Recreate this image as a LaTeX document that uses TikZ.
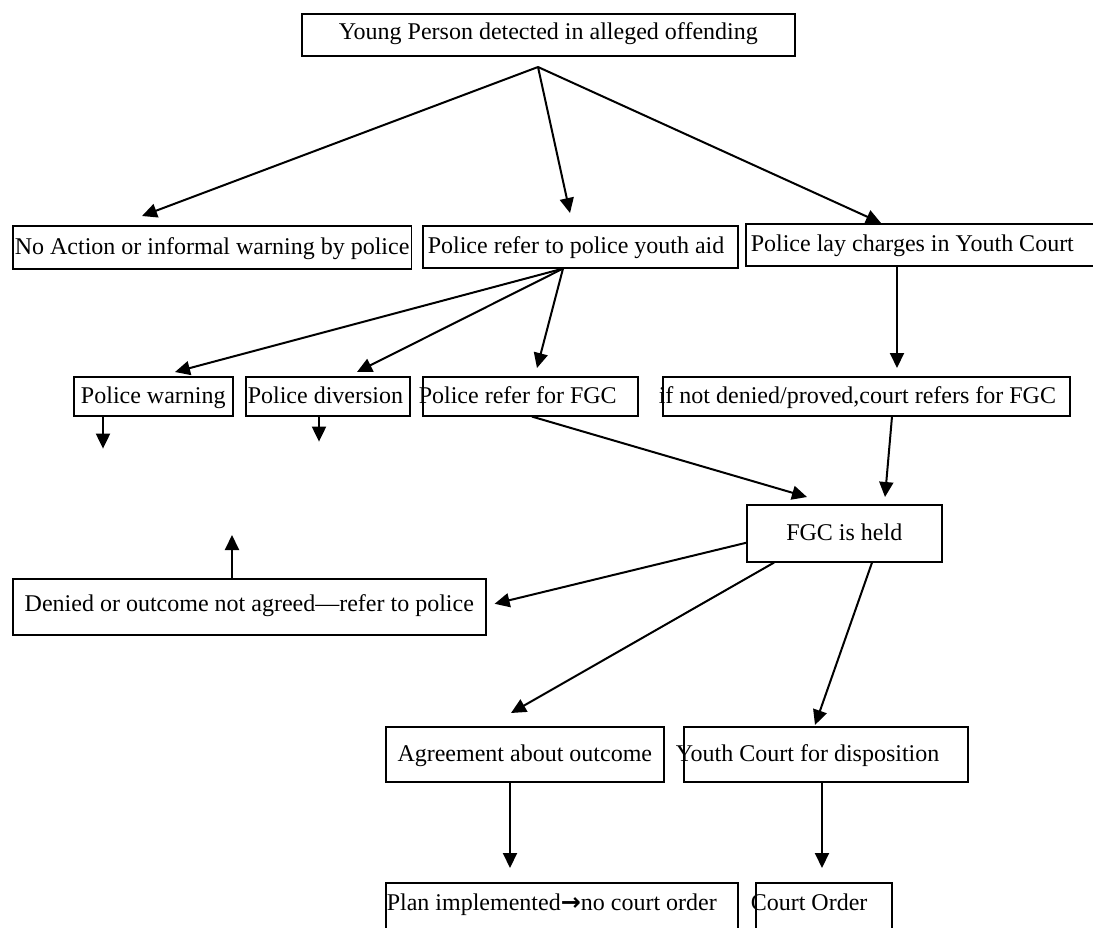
\documentclass[tikz,border=0pt]{standalone}
\usepackage{fontspec}
\setmainfont{Liberation Serif}
\newfontfamily\arrowfont{DejaVu Sans}
\usetikzlibrary{arrows.meta}

\tikzset{
  stage/.style={draw, line width=1.6pt, anchor=north west, inner xsep=2pt, inner ysep=0pt,
    text height=18pt, text depth=4pt,
    font=\fontsize{24pt}{28pt}\selectfont},
  leftstage/.style={stage, align=flush left},
  flow/.style={line width=2pt, -{Triangle[length=15pt,width=14pt]}}
}

\begin{document}
\begin{tikzpicture}[x=1pt, y=-1pt]
  \useasboundingbox (0,0) rectangle (1093,927);
  \clip (0,0) rectangle (1093,927);
%блоки
  \node[stage, minimum width=493pt, minimum height=42pt, text height=16pt, text depth=6pt] (young) at (301,13) {Young Person detected in alleged offending};
  \node[stage, minimum width=397pt, minimum height=43pt] (noaction) at (12,225) {No Action or informal warning by police};
  \node[leftstage, text width=305pt, inner xsep=5pt, minimum height=42pt] (youthaid) at (422,225) {Police refer to police youth aid};
  \node[leftstage, text width=350pt, inner xsep=5pt, minimum height=42pt] (charges) at (745,223) {Police lay charges in Youth Court};
  \node[stage, minimum width=159pt, minimum height=39pt] (warning) at (73,376) {Police warning};
  \node[leftstage, text width=160pt, inner xsep=2pt, minimum height=39pt] (diversion) at (245,376) {Police diversion};
  \node[leftstage, text width=223pt, inner xsep=-4pt, minimum height=39pt] (referfgc) at (422,376) {Police refer for FGC};
  \node[leftstage, text width=415pt, inner xsep=-4pt, minimum height=39pt] (notdenied) at (662,376) {if not denied/proved,court refers for FGC};
  \node[stage, minimum width=195pt, minimum height=57pt] (fgc) at (746,504) {FGC is held};
  \node[stage, minimum width=473pt, minimum height=56pt, text depth=8pt] (denied) at (12,578) {Denied or outcome not agreed—refer to police};
  \node[stage, minimum width=278pt, minimum height=55pt] (agreement) at (385,726) {Agreement about outcome};
  \node[leftstage, text width=300pt, inner xsep=-8pt, minimum height=55pt] (youthcourt) at (683,726) {Youth Court for disposition};
  \node[leftstage, text width=350pt, inner xsep=1pt, text height=28pt, text depth=40pt] (plan) at (385,882) {Plan implemented{\arrowfont\bfseries →}no court order};
  \node[leftstage, text width=146pt, inner xsep=-5pt, text height=28pt, text depth=40pt] (courtorder) at (755,882) {Court Order};
%стрелки
  \coordinate (apex) at (538,67);
  \coordinate (aidfoot) at ([xshift=141pt]youthaid.south west);
  \coordinate (warnend) at ([xshift=30pt,yshift=-32pt]warning.south west);
  \coordinate (divend) at ([xshift=74pt,yshift=-25pt]diversion.south west);
  \coordinate (deniedend) at ([xshift=220pt,yshift=43pt]denied.north west);
  \draw[flow] (apex) -- ([xshift=130pt,yshift=9pt]noaction.north west);
  \draw[flow] (apex) -- ([xshift=148pt,yshift=12pt]youthaid.north west);
  \draw[flow] (apex) -- ([xshift=136pt]charges.north west);
  \draw[flow] (aidfoot) -- ([xshift=102pt,yshift=4pt]warning.north west);
  \draw[flow] (aidfoot) -- ([xshift=112pt,yshift=4pt]diversion.north west);
  \draw[flow] (aidfoot) -- ([xshift=115pt,yshift=8pt]referfgc.north west);
  \draw[flow] ([xshift=152pt]charges.south west) -- ([xshift=235pt,yshift=8pt]notdenied.north west);
  \draw[flow] ([xshift=30pt]warning.south west) -- (warnend);
  \draw[flow] ([xshift=74pt]diversion.south west) -- (divend);
  \draw[flow] ([xshift=110pt]referfgc.south west) -- ([xshift=61pt,yshift=7pt]fgc.north west);
  \draw[flow] ([xshift=230pt]notdenied.south west) -- ([xshift=139pt,yshift=7pt]fgc.north west);
  \draw[flow] ([yshift=-9.5pt]fgc.west) -- ([xshift=8pt,yshift=3pt]denied.east);
  \draw[flow] ([xshift=28pt]fgc.south west) -- ([xshift=126pt,yshift=13pt]agreement.north west);
  \draw[flow] ([xshift=126pt]fgc.south west) -- ([xshift=132pt,yshift=1pt]youthcourt.north west);
  \draw[flow] ([xshift=220pt]denied.north west) -- (deniedend);
  \draw[flow] ([xshift=125pt]agreement.south west) -- ([xshift=125pt,yshift=14pt]plan.north west);
  \draw[flow] ([xshift=139pt]youthcourt.south west) -- ([xshift=67pt,yshift=14pt]courtorder.north west);
\end{tikzpicture}
\end{document}
